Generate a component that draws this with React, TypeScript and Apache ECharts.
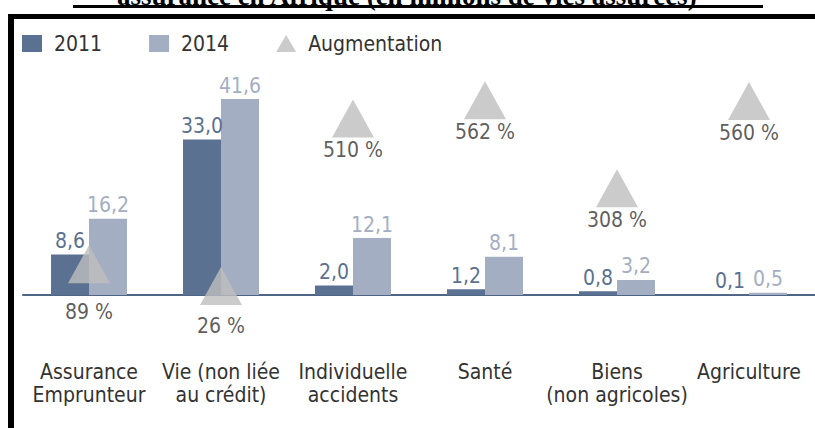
import React, { useEffect, useRef } from "react";
import * as echarts from "echarts";

const categories = [
  "Assurance\nEmprunteur",
  "Vie (non liée\nau crédit)",
  "Individuelle\naccidents",
  "Santé",
  "Biens\n(non agricoles)",
  "Agriculture",
];
const values2011 = [8.6, 33.0, 2.0, 1.2, 0.8, 0.1];
const values2014 = [16.2, 41.6, 12.1, 8.1, 3.2, 0.5];
const augmentation = [89, 26, 510, 562, 308, 560];
const titleText = "assurance en Afrique (en millions de vies assurées)";

const FONT = "'DejaVu Sans Condensed', 'DejaVu Sans', sans-serif";
const DARK = "#5b7191";
const LIGHT = "#a4aec3";
const TRI = "#bebebe";
const TXT = "#333333";

const fmt = (v: number) => v.toFixed(1).replace(".", ",");

export default function App() {
  const ref = useRef<HTMLDivElement>(null);
  useEffect(() => {
    if (!ref.current) return;
    const chart = echarts.init(ref.current, null, { renderer: "svg" });
    chart.setOption({
      animation: false,
      backgroundColor: "#ffffff",
      textStyle: { fontFamily: FONT },
      graphic: [
        {
          type: "text",
          left: "center",
          top: -18,
          style: {
            text: titleText,
            font: "bold 27px 'Liberation Serif', serif",
            fill: "#000",
          },
        },
        { type: "rect", shape: { x: 73, y: 5, width: 690, height: 3 }, style: { fill: "#000" } },
        { type: "rect", shape: { x: 8, y: 14, width: 807, height: 5 }, style: { fill: "#000" } },
        { type: "rect", shape: { x: 8, y: 14, width: 6, height: 414 }, style: { fill: "#000" } },
      ],
      legend: {
        left: 22,
        top: 33,
        padding: 0,
        itemWidth: 20,
        itemHeight: 17,
        itemGap: 47,
        textStyle: { fontFamily: FONT, fontSize: 21, color: TXT, padding: [0, 0, 0, 7] },
        data: [
          { name: "2011", icon: "rect" },
          { name: "2014", icon: "rect" },
          { name: "Augmentation", icon: "triangle" },
        ],
      },
      grid: { left: 23, right: 0, top: 59.5, bottom: 133, containLabel: false },
      xAxis: {
        type: "category",
        data: categories,
        axisLine: { show: true, lineStyle: { color: "#4f6585", width: 2 } },
        axisTick: { show: false },
        axisLabel: {
          interval: 0,
          margin: 65,
          fontFamily: FONT,
          fontSize: 21,
          lineHeight: 23,
          color: TXT,
        },
      },
      yAxis: [
        { type: "value", min: 0, max: 50, show: false, splitLine: { show: false } },
        { type: "value", min: 0, max: 680, show: false, splitLine: { show: false } },
      ],
      series: [
        {
          name: "2011",
          type: "bar",
          data: values2011,
          barWidth: 38,
          barGap: "0%",
          itemStyle: { color: DARK },
          label: {
            show: true,
            position: "top",
            distance: 3,
            formatter: (p: any) => fmt(p.value),
            fontFamily: FONT,
            fontSize: 21,
            color: DARK,
          },
        },
        {
          name: "2014",
          type: "bar",
          data: values2014,
          barWidth: 38,
          barGap: "0%",
          itemStyle: { color: LIGHT },
          label: {
            show: true,
            position: "top",
            distance: 3,
            formatter: (p: any) => fmt(p.value),
            fontFamily: FONT,
            fontSize: 21,
            color: LIGHT,
          },
        },
        {
          name: "Augmentation",
          type: "scatter",
          yAxisIndex: 1,
          symbol: "triangle",
          symbolSize: [42, 38],
          z: 5,
          itemStyle: { color: TRI },
          data: augmentation.map((v, i) => ({
            value: v,
            label: i < 2 ? { distance: i === 0 ? 18 : 11 } : undefined,
          })),
          label: {
            show: true,
            position: "bottom",
            distance: 2,
            formatter: (p: any) => `${p.value} %`,
            fontFamily: FONT,
            fontSize: 21,
            color: TXT,
          },
        },
      ],
    });
    return () => chart.dispose();
  }, []);
  return (
    <div
      ref={ref}
      style={{ position: "fixed", left: 0, top: 0, width: 815, height: 428 }}
    />
  );
}
